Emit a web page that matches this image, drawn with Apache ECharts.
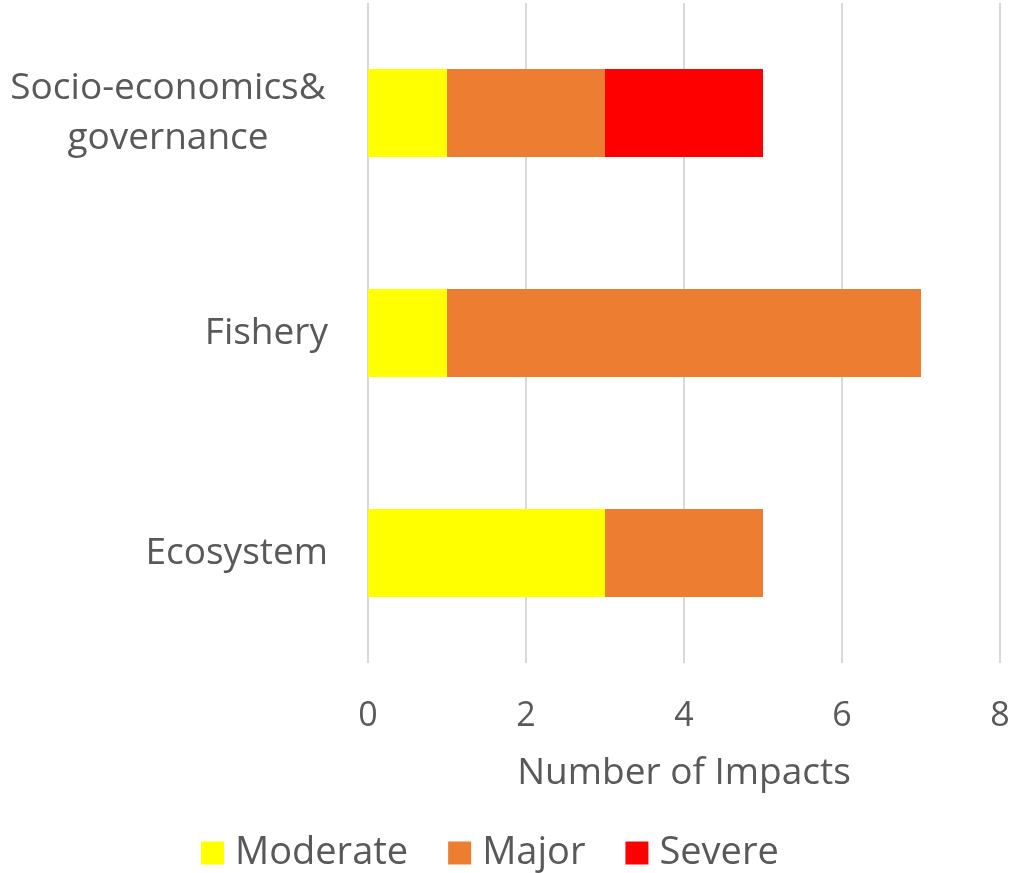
<!DOCTYPE html>
<html>
<head>
<meta charset="utf-8">
<script src="https://cdn.jsdelivr.net/npm/echarts@6/dist/echarts.min.js"></script>
<style>
  html, body { margin: 0; padding: 0; background: #ffffff; }
  #chart { width: 1013px; height: 873px; }
</style>
</head>
<body>
<div id="chart"></div>
<script>
// Impact categories (bottom to top on the vertical axis)
const categories = ['Ecosystem', 'Fishery', 'Socio-economics&\ngovernance'];
// Number of impacts by severity level
const moderate = [3, 1, 1];
const major = [2, 6, 2];
const severe = [0, 0, 2];
const xTicks = [0, 2, 4, 6, 8];

const textColor = '#595959';
const fontFamily = '"Open Sans", "Liberation Sans", sans-serif';

const chart = echarts.init(document.getElementById('chart'));

function stackSeries(name, data, color) {
  return {
    name: name,
    type: 'bar',
    stack: 'impacts',
    data: data,
    barCategoryGap: '60%',
    itemStyle: { color: color },
    emphasis: { disabled: true }
  };
}

chart.setOption({
  animation: false,
  textStyle: { fontFamily: fontFamily, color: textColor },
  grid: { left: 368, right: 13, top: 3, bottom: 210, containLabel: false },
  xAxis: {
    type: 'value',
    min: xTicks[0],
    max: xTicks[xTicks.length - 1],
    interval: 2,
    name: 'Number of Impacts',
    nameLocation: 'middle',
    nameGap: 92,
    nameTextStyle: { fontSize: 37, color: textColor, fontFamily: fontFamily },
    axisLine: { show: false },
    axisTick: { show: false },
    axisLabel: { fontSize: 34, color: textColor, margin: 36, fontFamily: fontFamily },
    splitLine: { show: true, lineStyle: { color: '#d9d9d9', width: 2 } }
  },
  yAxis: {
    type: 'category',
    data: categories,
    axisLine: { show: false },
    axisTick: { show: false },
    axisLabel: {
      fontSize: 37,
      color: textColor,
      margin: 40,
      align: 'right',
      fontFamily: fontFamily,
      formatter: function (value) {
        // multi-line labels are centred within their own block
        return value.indexOf('\n') >= 0
          ? value.split('\n').map(function (s) { return '{c|' + s + '}'; }).join('\n')
          : value;
      },
      rich: {
        c: {
          fontSize: 37,
          color: textColor,
          fontFamily: fontFamily,
          width: 320,
          align: 'center',
          lineHeight: 50
        }
      }
    }
  },
  legend: {
    left: 196,
    bottom: -4,
    itemWidth: 23,
    itemHeight: 23,
    itemGap: 40,
    icon: 'rect',
    textStyle: { fontSize: 38, color: textColor, fontFamily: fontFamily, padding: [0, 0, 0, 6] },
    data: ['Moderate', 'Major', 'Severe']
  },
  series: [
    stackSeries('Moderate', moderate, '#FFFF00'),
    stackSeries('Major', major, '#ED7D31'),
    stackSeries('Severe', severe, '#FF0000')
  ]
});
</script>
</body>
</html>
